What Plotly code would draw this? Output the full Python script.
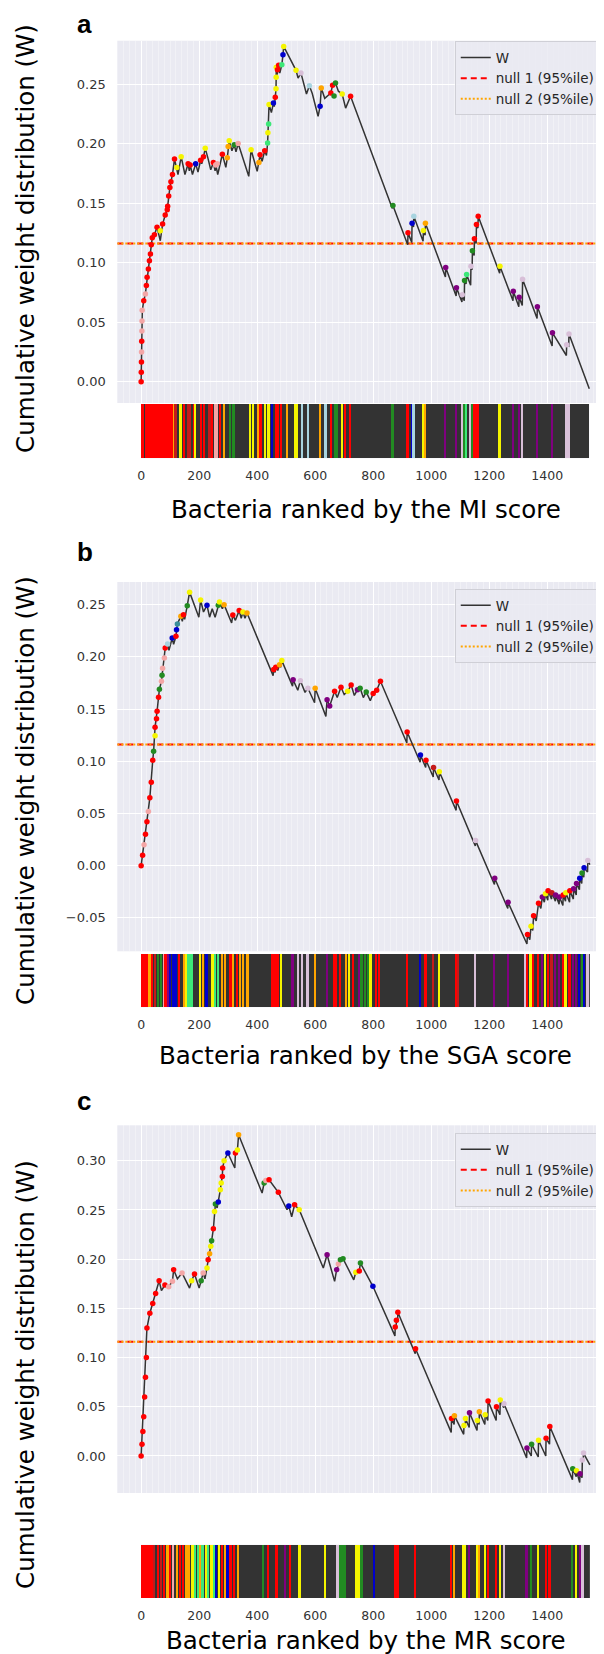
import plotly.graph_objects as go

W_PX, H_PX = 604, 1654

# colour codes
R = '#ff0000'; DR = '#c41a1a'; Y = '#f5f500'; O = '#ffa500'; G = '#228b22'
LG = '#3ce878'; B = '#0000cd'; P = '#800080'; PK = '#f4a6a6'; LB = '#a8d4e0'
TH = '#d8bfd8'; TE = '#3a8f9a'

# ---------------- panel a (MI score) ----------------
A_N = 1545
A_NULL = 0.116
A_X = [0, 2, 4, 9, 14.7, 18, 20.5, 25, 28.5, 32, 35, 38.4, 45.7, 54.8, 66, 74, 83, 90, 91.4, 95, 99, 102.7,
       108, 115, 127, 138, 151, 162, 166, 169, 177, 188, 196, 205, 209, 215, 221, 230, 240, 249, 255, 257,
       264, 280, 292, 297, 300, 303.6, 313, 321, 327, 334.5, 371, 379, 400, 406, 410, 417, 426, 432, 436,
       441, 449, 456, 459, 462.4, 465, 465.5, 466, 469, 474, 478, 485, 489, 491.4, 534, 541, 551, 570,
       580, 590, 610, 617, 621, 633, 654, 660, 670, 680, 693, 705, 722,
       866, 868, 919, 920, 933, 934, 939, 940, 972, 973, 979, 980, 1049, 1050, 1086, 1087, 1106, 1107,
       1114, 1115, 1120, 1122, 1136, 1137, 1141, 1142, 1148, 1149, 1155, 1156, 1161, 1162, 1236, 1237,
       1282, 1283, 1302, 1303, 1314, 1315, 1365, 1366, 1417, 1418, 1466, 1467, 1474, 1475, 1545]
A_Y = [0.0, 0.034, 0.060, 0.068, 0.0737, 0.0807, 0.0877, 0.0946, 0.1016, 0.1072, 0.115, 0.121, 0.1235,
       0.1297, 0.1184, 0.1324, 0.140, 0.1445, 0.1473, 0.156, 0.163, 0.168, 0.174, 0.187, 0.174, 0.189,
       0.174, 0.183, 0.177, 0.182, 0.174, 0.183, 0.176, 0.186, 0.183, 0.189, 0.196, 0.188, 0.178, 0.184,
       0.177, 0.183, 0.174, 0.191, 0.180, 0.188, 0.1976, 0.2024, 0.194, 0.199, 0.193, 0.200, 0.1725,
       0.1948, 0.1767, 0.184, 0.1906, 0.185, 0.194, 0.190, 0.2004, 0.2329, 0.226, 0.234, 0.231, 0.2388,
       0.246, 0.2556, 0.264, 0.258, 0.2657, 0.2592, 0.2662, 0.2746, 0.2816, 0.2615, 0.255, 0.2592,
       0.2416, 0.2486, 0.242, 0.2229, 0.2313, 0.2466, 0.238, 0.2425, 0.2489, 0.2508, 0.244, 0.2416,
       0.2298, 0.2397,
       0.1455, 0.148, 0.115, 0.125, 0.117, 0.133, 0.130, 0.139, 0.118, 0.127, 0.123, 0.133, 0.088, 0.096,
       0.072, 0.079, 0.067, 0.073, 0.068, 0.085, 0.082, 0.090, 0.081, 0.097, 0.094, 0.110, 0.106, 0.120,
       0.116, 0.132, 0.129, 0.139, 0.091, 0.097, 0.068, 0.076, 0.063, 0.071, 0.064, 0.086, 0.053, 0.063,
       0.030, 0.041, 0.022, 0.031, 0.030, 0.040, -0.006]
A_MX = [0, 0.5, 1, 1.5, 2, 2.5, 3, 3.5, 9, 14.7, 18, 20.5, 25, 28.5, 32, 35, 38.4, 45.7, 54.8, 66, 74,
        83, 90, 91.4, 95, 99, 102.7, 108, 115, 123, 138, 162, 169, 188, 205, 215, 221, 249, 257, 262, 280,
        297, 300, 303.6, 321, 334.5, 379, 406, 410, 426, 436, 437, 439.5, 441, 456, 462.4, 465, 465.5,
        466, 470, 474, 485, 489, 491.4, 534, 551, 580, 617, 621, 654, 660, 665, 670, 693, 722,
        868, 920, 934, 940, 973, 980, 1050, 1087, 1107, 1115, 1122, 1137, 1142, 1149, 1156, 1162, 1237,
        1283, 1303, 1315, 1366, 1418, 1467, 1475]
A_MY = [0.0, 0.008, 0.0165, 0.025, 0.034, 0.0425, 0.051, 0.060, 0.068, 0.0737, 0.0807, 0.0877, 0.0946,
        0.1016, 0.1072, 0.115, 0.121, 0.1235, 0.1297, 0.1268, 0.1324, 0.140, 0.1445, 0.1473, 0.156,
        0.163, 0.168, 0.174, 0.187, 0.180, 0.189, 0.183, 0.182, 0.183, 0.186, 0.189, 0.196, 0.184, 0.182,
        0.183, 0.191, 0.188, 0.1976, 0.2024, 0.199, 0.200, 0.1948, 0.184, 0.1906, 0.194, 0.2004, 0.209,
        0.2164, 0.2329, 0.234, 0.2388, 0.246, 0.2556, 0.264, 0.262, 0.2657, 0.2662, 0.2746, 0.2816,
        0.2615, 0.2592, 0.2486, 0.2313, 0.2466, 0.2425, 0.2489, 0.240, 0.2508, 0.2416, 0.2397,
        0.148, 0.125, 0.133, 0.139, 0.127, 0.133, 0.096, 0.079, 0.073, 0.085, 0.090, 0.097, 0.110, 0.120,
        0.132, 0.139, 0.097, 0.076, 0.071, 0.086, 0.063, 0.041, 0.031, 0.040]
A_MC = [R, R, R, PK, R, PK, PK, PK, R, PK, R, R, R, R, R, R, R, R, R, Y, R, R, R, R, R, R, R, R, R, Y, Y,
        R, R, B, R, R, Y, R, PK, PK, R, O, O, Y, G, PK, Y, O, R, R, LG, Y, LG, Y, B, R, Y, Y, Y, R, R, LG,
        B, Y, Y, TH, LB, B, O, R, R, G, G, Y, R,
        G, R, B, LB, Y, O, P, P, TH, G, LG, TH, G, R, R, R, Y, P, P, TH, P, P, TH, TH]
A_SX = [1, 5, 9, 18, 22, 26, 30, 34, 38, 42, 46, 50, 54, 58, 62, 70, 74, 78, 82, 90, 94, 98, 102, 106,
        114, 120, 137, 148, 162, 168, 185, 188, 209, 219, 237, 245, 257, 263, 272, 288, 308, 320, 377,
        386, 405, 413, 428, 440, 452, 465, 474, 484, 504, 531, 538, 557, 577, 617, 637, 657, 670, 676,
        694, 703, 722, 868, 920, 934, 940, 973, 980, 1050, 1087, 1107, 1115, 1122, 1137, 1142, 1149,
        1156, 1162, 1237, 1283, 1303, 1315, 1366, 1418, 1467, 1475]
A_SC = [R, R, R, R, R, R, R, R, R, R, R, R, R, R, R, R, R, R, R, R, R, R, R, R, O, DR, Y, R, DR, DR, R, Y,
        R, R, DR, R, PK, PK, R, O, G, G, Y, Y, O, R, Y, Y, B, R, R, R, O, Y, Y, LB, LB, O, LB, R, G, G, Y,
        R, R, G, R, B, LB, Y, O, P, P, TH, G, LG, TH, G, R, R, R, Y, P, P, TH, P, P, TH, TH]

# ---------------- panel b (SGA score) ----------------
B_N = 1547
B_NULL = 0.116
B_X = [0, 10, 20, 30, 40, 43, 48, 53, 55, 60, 63, 70, 72, 74, 80, 83, 91, 96, 107, 112, 120, 122, 125,
       137, 142, 146, 150, 159, 167, 199, 205, 215, 227, 236, 245, 255, 266, 270, 280, 286, 312, 316,
       325, 338, 345, 351, 358, 365, 455, 457, 462, 464, 471, 477, 481, 485, 522, 524, 540, 549, 565,
       575, 598, 600, 637, 641, 650, 667, 676, 689, 700, 712, 724, 735, 746, 755, 766, 776, 790, 800,
       812, 825, 916, 917, 962, 963, 981, 982, 1007, 1008, 1027, 1028, 1086, 1087, 1152, 1153, 1218,
       1219, 1264, 1265, 1330, 1332, 1340, 1344, 1350, 1353, 1362, 1370, 1378, 1383, 1390, 1394, 1402,
       1403, 1415, 1416, 1428, 1429, 1441, 1442, 1454, 1455, 1463, 1464, 1477, 1478, 1490, 1491, 1500,
       1501, 1511, 1512, 1519, 1520, 1526, 1527, 1539, 1540, 1547]
B_Y = [0.0, 0.02, 0.042, 0.065, 0.101, 0.1096, 0.1325, 0.1408, 0.148, 0.1613, 0.169, 0.1766, 0.1824,
       0.189, 0.199, 0.2085, 0.2124, 0.2063, 0.218, 0.212, 0.2197, 0.226, 0.2315, 0.239, 0.234, 0.2404,
       0.236, 0.249, 0.262, 0.238, 0.2545, 0.243, 0.2494, 0.238, 0.246, 0.238, 0.2494, 0.2526, 0.246,
       0.250, 0.2325, 0.240, 0.235, 0.2443, 0.237, 0.243, 0.237, 0.242, 0.182, 0.188, 0.185, 0.190,
       0.187, 0.1925, 0.190, 0.1964, 0.172, 0.178, 0.168, 0.1772, 0.166, 0.170, 0.156, 0.170, 0.143,
       0.159, 0.153, 0.167, 0.161, 0.1709, 0.164, 0.167, 0.173, 0.163, 0.1686, 0.170, 0.161, 0.1664,
       0.158, 0.165, 0.168, 0.1766, 0.1175, 0.128, 0.099, 0.106, 0.094, 0.101, 0.085, 0.094, 0.082,
       0.090, 0.053, 0.062, 0.019, 0.024, -0.018, -0.012, -0.041, -0.035, -0.075, -0.066, -0.071,
       -0.058, -0.062, -0.048, -0.053, -0.036, -0.041, -0.030, -0.035, -0.027, -0.033, -0.024, -0.032,
       -0.026, -0.034, -0.028, -0.037, -0.030, -0.038, -0.028, -0.034, -0.026, -0.035, -0.024, -0.032,
       -0.022, -0.028, -0.017, -0.023, -0.012, -0.017, -0.007, -0.011, -0.002, -0.006, 0.005, 0.001]
B_MX = [0, 5, 10, 15, 20, 25, 30, 35, 40, 43, 48, 48, 53, 55, 60, 63, 70, 72, 74, 80, 83, 91, 107, 120,
        122, 125, 137, 146, 159, 167, 205, 227, 266, 270, 286, 316, 338, 351, 365, 457, 464, 477, 485,
        524, 549, 575, 600, 641, 650, 667, 689, 712, 724, 746, 755, 776, 800, 812, 825,
        917, 963, 982, 1008, 1028, 1087, 1153, 1219, 1265, 1332, 1344, 1353, 1370, 1383, 1394, 1403,
        1416, 1429, 1442, 1455, 1464, 1478, 1491, 1501, 1512, 1520, 1527, 1540]
B_MY = [0.0, 0.01, 0.02, 0.03, 0.042, 0.052, 0.065, 0.08, 0.101, 0.1096, 0.1245, 0.1325, 0.1408, 0.148,
        0.1613, 0.169, 0.1766, 0.1824, 0.189, 0.199, 0.2085, 0.2124, 0.218, 0.2197, 0.226, 0.2315, 0.239,
        0.2404, 0.249, 0.262, 0.2545, 0.2494, 0.2494, 0.2526, 0.250, 0.240, 0.2443, 0.243, 0.242, 0.188,
        0.190, 0.1925, 0.1964, 0.178, 0.1772, 0.170, 0.170, 0.159, 0.153, 0.167, 0.1709, 0.167, 0.173,
        0.1686, 0.170, 0.1664, 0.165, 0.168, 0.1766,
        0.128, 0.106, 0.101, 0.094, 0.090, 0.062, 0.024, -0.012, -0.035, -0.066, -0.058, -0.048, -0.036,
        -0.030, -0.027, -0.024, -0.026, -0.028, -0.030, -0.028, -0.026, -0.024, -0.022, -0.017, -0.012,
        -0.007, -0.002, 0.005]
B_MC = [R, R, PK, R, R, PK, R, R, R, G, Y, R, R, R, R, G, PK, G, PK, PK, R, LB, B, R, B, TE, O, R, G, Y,
        Y, B, G, Y, O, R, R, Y, O, R, R, O, Y, P, TH, TH, O, P, P, R, R, Y, R, P, G, G, R, R, R,
        R, B, R, DR, Y, R, TH, P, P, R, Y, R, R, P, Y, R, DR, P, P, R, Y, R, P, P, B, G, B, TH]
B_SX = [2, 6, 10, 14, 18, 22, 30, 39, 50, 60, 70, 79, 85, 93, 102, 113, 122, 131, 148, 157, 165, 175,
        204, 214, 227, 247, 257, 266, 280, 290, 309, 319, 332, 341, 352, 368, 452, 458, 465, 472, 484,
        523, 542, 555, 575, 601, 641, 667, 672, 687, 707, 717, 733, 752, 761, 772, 785, 792, 812, 822,
        917, 963, 982, 1008, 1028, 1087, 1095, 1153, 1219, 1265, 1324, 1332, 1344, 1353, 1370, 1383,
        1394, 1403, 1416, 1429, 1442, 1455, 1464, 1478, 1491, 1501, 1512, 1520, 1527, 1540]
B_SC = [R, R, R, R, R, R, O, R, DR, G, G, PK, R, P, B, B, B, R, O, Y, LG, LG, Y, O, B, Y, LG, LG, O, O,
        R, O, R, O, O, O, R, R, R, R, Y, P, TH, TH, TH, O, P, R, R, R, O, Y, R, P, G, G, G, Y, R, R,
        R, B, R, DR, Y, R, DR, TH, P, P, TH, R, Y, R, R, P, Y, R, DR, P, P, R, Y, R, P, P, B, G, B, TH]

# ---------------- panel c (MR score) ----------------
C_N = 1547
C_NULL = 0.116
C_X = [0, 5, 10, 15, 20, 30, 40, 50, 62, 70, 82, 95, 108, 112, 125, 141, 167, 174, 184, 200, 207, 214,
       220, 227, 231, 236, 240, 243, 249, 253, 256, 262, 266, 273, 276, 280, 281, 286, 299, 310, 323,
       325, 332, 336, 417, 424, 441, 473, 503, 509, 519, 529, 545, 628, 641, 667, 674, 687, 696, 733,
       740, 752, 756, 799, 875, 876, 879, 880, 884, 885, 945, 946, 1069, 1070, 1079, 1080, 1112, 1113,
       1117, 1118, 1131, 1132, 1158, 1159, 1165, 1166, 1185, 1186, 1195, 1196, 1224, 1225, 1237, 1238,
       1250, 1251, 1329, 1330, 1345, 1346, 1369, 1370, 1395, 1396, 1408, 1409, 1487, 1488, 1500, 1501,
       1512, 1513, 1520, 1521, 1524, 1525, 1547]
C_Y = [0.0, 0.03, 0.06, 0.10, 0.13, 0.145, 0.155, 0.165, 0.178, 0.168, 0.1737, 0.172, 0.1775, 0.1893,
       0.180, 0.186, 0.1706, 0.178, 0.1849, 0.1706, 0.178, 0.186, 0.180, 0.191, 0.1994, 0.2055, 0.213,
       0.2187, 0.2309, 0.2485, 0.256, 0.252, 0.258, 0.2705, 0.2774, 0.2841, 0.2926, 0.300, 0.3078, 0.300,
       0.2926, 0.3078, 0.311, 0.3264, 0.2672, 0.2773, 0.2807, 0.2679, 0.2502, 0.254, 0.2431, 0.2553,
       0.2502, 0.191, 0.2045, 0.1774, 0.1893, 0.1994, 0.2005, 0.179, 0.1866, 0.188, 0.196, 0.1724,
       0.122, 0.131, 0.129, 0.138, 0.136, 0.146, 0.104, 0.109, 0.024, 0.038, 0.032, 0.041, 0.022, 0.031,
       0.029, 0.038, 0.029, 0.044, 0.026, 0.036, 0.032, 0.045, 0.032, 0.042, 0.036, 0.056, 0.036, 0.050,
       0.042, 0.057, 0.049, 0.053, -0.002, 0.008, 0.000, 0.012, -0.001, 0.016, 0.000, 0.018, 0.012,
       0.030, -0.024, -0.013, -0.021, -0.015, -0.027, -0.018, -0.022, -0.004, -0.005, 0.003, -0.009]
C_MX = [0, 3, 6, 9, 12, 15, 18, 20, 30, 40, 50, 62, 82, 95, 108, 112, 141, 174, 184, 207, 214, 227, 231,
        236, 240, 243, 249, 253, 256, 266, 273, 276, 280, 281, 286, 299, 325, 332, 336, 424, 430, 441,
        473, 509, 529, 545, 641, 674, 680, 687, 696, 740, 752, 756, 799,
        876, 880, 885, 946, 1070, 1080, 1113, 1118, 1132, 1159, 1166, 1186, 1196, 1225, 1238, 1251, 1330,
        1346, 1370, 1396, 1409, 1488, 1501, 1513, 1521, 1525]
C_MY = [0.0, 0.012, 0.025, 0.04, 0.06, 0.08, 0.10, 0.13, 0.145, 0.155, 0.165, 0.178, 0.1737, 0.172,
        0.1775, 0.1893, 0.186, 0.178, 0.1849, 0.178, 0.186, 0.191, 0.1994, 0.2055, 0.213, 0.2187, 0.2309,
        0.2485, 0.256, 0.258, 0.2705, 0.2774, 0.2841, 0.2926, 0.300, 0.3078, 0.3078, 0.311, 0.3264,
        0.2773, 0.280, 0.2807, 0.2679, 0.254, 0.2553, 0.2502, 0.2045, 0.1893, 0.195, 0.1994, 0.2005,
        0.1866, 0.188, 0.196, 0.1724,
        0.131, 0.138, 0.146, 0.109, 0.038, 0.041, 0.031, 0.038, 0.044, 0.036, 0.045, 0.042, 0.056, 0.050,
        0.057, 0.053, 0.008, 0.012, 0.016, 0.018, 0.030, -0.013, -0.015, -0.018, -0.004, 0.003]
C_MC = [R, R, R, R, R, R, R, R, R, R, R, R, R, PK, PK, R, PK, Y, R, G, PK, Y, R, O, Y, G, R, Y, G, B, Y,
        Y, R, R, Y, B, R, Y, O, G, PK, R, R, B, R, Y, P, P, PK, G, G, Y, R, G, B,
        R, R, R, R, R, O, Y, Y, P, Y, O, Y, R, R, Y, TH, P, G, Y, R, R, G, Y, P, TH, TH]
C_SX = [2, 6, 10, 14, 18, 22, 26, 30, 34, 38, 46, 59, 70, 79, 92, 101, 112, 125, 134, 145, 158, 167, 178,
        188, 198, 204, 213, 224, 233, 244, 253, 259, 270, 280, 290, 299, 309, 322, 336, 421, 439, 468,
        497, 514, 547, 636, 678, 687, 694, 702, 744, 751, 761, 803, 876, 880, 885, 946, 1070, 1080, 1113,
        1118, 1132, 1159, 1166, 1186, 1196, 1225, 1238, 1251, 1330, 1346, 1370, 1396, 1409, 1488, 1501,
        1513, 1521, 1525]
C_SC = [R, R, R, R, R, R, R, R, R, R, DR, R, DR, R, O, R, PK, O, R, R, O, O, Y, LG, LG, O, LG, Y, LG, Y,
        LG, B, Y, R, O, B, R, R, O, G, R, R, P, R, Y, Y, TH, G, G, G, Y, Y, G, B, R, R, R, R, R, O, Y, Y,
        P, Y, O, Y, R, R, Y, TH, P, G, Y, R, R, G, Y, P, TH, TH]

GRID = 'white'
BG = '#eaeaf2'
YTICKFONT = dict(family='DejaVu Sans', size=13, color='#333333')
XTICKFONT = dict(family='DejaVu Sans', size=12.5, color='#333333')


def py2paper(py):
    return 1 - py / H_PX


panels = [
    dict(letter='a', N=A_N, null=A_NULL, X=A_X, Y=A_Y, MX=A_MX, MY=A_MY, MC=A_MC, SX=A_SX, SC=A_SC,
         top=32.7, bot=395.0, yr=[-0.0179, 0.2864], ytv=[0.0, 0.05, 0.10, 0.15, 0.20, 0.25],
         stop=396.0, sbot=450.3, lab_top=0.0, xt_y=501.5, yt_y=230, leg_top=33.3,
         xlabel='Bacteria ranked by the MI score'),
    dict(letter='b', N=B_N, null=B_NULL, X=B_X, Y=B_Y, MX=B_MX, MY=B_MY, MC=B_MC, SX=B_SX, SC=B_SC,
         top=574.0, bot=943.3, yr=[-0.082, 0.2717], ytv=[-0.05, 0.0, 0.05, 0.10, 0.15, 0.20, 0.25],
         stop=946.0, sbot=999.3, lab_top=528.5, xt_y=1047.0, yt_y=782, leg_top=581.0,
         xlabel='Bacteria ranked by the SGA score'),
    dict(letter='c', N=C_N, null=C_NULL, X=C_X, Y=C_Y, MX=C_MX, MY=C_MY, MC=C_MC, SX=C_SX, SC=C_SC,
         top=1117.3, bot=1485.0, yr=[-0.0376, 0.336], ytv=[0.0, 0.05, 0.10, 0.15, 0.20, 0.25, 0.30],
         stop=1536.7, sbot=1590.0, lab_top=1076.5, xt_y=1632.0, yt_y=1366, leg_top=1125.0,
         xlabel='Bacteria ranked by the MR score'),
]

fig = go.Figure()
layout = dict(width=W_PX, height=H_PX, margin=dict(l=0, r=0, t=0, b=0), paper_bgcolor='white',
              plot_bgcolor=BG, showlegend=True, annotations=[])

PX_PER_UNIT = 0.292
X0_PX = 130.0
main_xr = [(106 - X0_PX) / PX_PER_UNIT, (604 - X0_PX) / PX_PER_UNIT]

for i, p in enumerate(panels):
    mx = 2 * i + 1
    sx = 2 * i + 2
    mxa = 'x' if mx == 1 else f'x{mx}'
    mya = 'y' if mx == 1 else f'y{mx}'
    sxa = f'x{sx}'
    sya = f'y{sx}'
    leg = 'legend' if i == 0 else f'legend{i + 1}'

    # null lines
    fig.add_trace(go.Scatter(x=[main_xr[0], main_xr[1]], y=[p['null'], p['null']], mode='lines',
                             line=dict(color='#ff0000', width=2, dash='6px,4px'), name='null 1 (95%ile)',
                             xaxis=mxa, yaxis=mya, legend=leg, legendrank=2, legendgroup=f'n1{i}',
                             hoverinfo='skip'))
    fig.add_trace(go.Scatter(x=[main_xr[0], main_xr[1]], y=[p['null'], p['null']], mode='lines',
                             line=dict(color='#ffa500', width=2, dash='2px,2px'), name='null 2 (95%ile)',
                             xaxis=mxa, yaxis=mya, legend=leg, legendrank=3, legendgroup=f'n2{i}',
                             hoverinfo='skip'))
    # W curve
    fig.add_trace(go.Scatter(x=p['X'], y=p['Y'], mode='lines', line=dict(color='#333333', width=1.5),
                             name='W', xaxis=mxa, yaxis=mya, legend=leg, legendrank=1,
                             legendgroup=f'w{i}'))
    # hit markers
    fig.add_trace(go.Scatter(x=p['MX'], y=p['MY'], mode='markers',
                             marker=dict(color=p['MC'], size=5.5, line=dict(width=0)),
                             showlegend=False, xaxis=mxa, yaxis=mya))
    # strip background
    fig.add_trace(go.Bar(x=[p['N'] / 2], y=[1], width=[p['N']], marker=dict(color='#333333', line=dict(width=0)),
                         showlegend=False, xaxis=sxa, yaxis=sya, hoverinfo='skip'))
    fig.add_trace(go.Bar(x=p['SX'], y=[1] * len(p['SX']), width=6,
                         marker=dict(color=p['SC'], line=dict(width=0)),
                         showlegend=False, xaxis=sxa, yaxis=sya))

    layout[f'xaxis{"" if mx == 1 else mx}'] = dict(
        domain=[106 / W_PX, 1.0], range=main_xr, anchor=mya, showticklabels=False, ticks='',
        showgrid=True, gridcolor=GRID, gridwidth=1.3, dtick=200, tick0=0, zeroline=False, showline=False,
        minor=dict(dtick=20, showgrid=True, gridcolor='rgba(255,255,255,0.35)', gridwidth=0.6))
    layout[f'yaxis{"" if mx == 1 else mx}'] = dict(
        domain=[py2paper(p['bot']), py2paper(p['top'])], range=p['yr'], anchor=mxa,
        tickvals=p['ytv'], tickformat='.2f', tickfont=YTICKFONT, ticks='outside', ticklen=8,
        tickcolor='rgba(0,0,0,0)', showgrid=True, gridcolor=GRID, gridwidth=1.3, zeroline=False,
        showline=False)
    layout[f'xaxis{sx}'] = dict(
        domain=[X0_PX / W_PX, (X0_PX + p['N'] * PX_PER_UNIT) / W_PX], range=[0, p['N']], anchor=sya,
        tickvals=[0, 200, 400, 600, 800, 1000, 1200, 1400], tickfont=XTICKFONT, ticks='outside',
        ticklen=6, tickcolor='rgba(0,0,0,0)', showgrid=False, zeroline=False, showline=False)
    layout[f'yaxis{sx}'] = dict(
        domain=[py2paper(p['sbot']), py2paper(p['stop'])], range=[0, 1], anchor=sxa,
        showticklabels=False, showgrid=False, zeroline=False, showline=False, ticks='')

    layout[leg] = dict(x=445.7 / W_PX, xanchor='left', y=py2paper(p['leg_top']), yanchor='top',
                       bgcolor='rgba(234,234,242,0.85)', bordercolor='#cfcfd6', borderwidth=1,
                       font=dict(family='DejaVu Sans', size=13.5, color='#262626'),
                       tracegroupgap=3, traceorder='normal')

    layout['annotations'] += [
        dict(text=f'<b>{p["letter"]}</b>', x=64 / W_PX, y=py2paper(p['lab_top']), xref='paper', yref='paper',
             xanchor='left', yanchor='top', showarrow=False, borderpad=0,
             font=dict(family='Liberation Sans', size=26, color='black')),
        dict(text=p['xlabel'], x=356 / W_PX, y=py2paper(p['xt_y']), xref='paper', yref='paper',
             xanchor='center', yanchor='middle', showarrow=False,
             font=dict(family='DejaVu Sans', size=24.5, color='black')),
        dict(text='Cumulative weight distribution (W)', x=13 / W_PX, y=py2paper(p['yt_y']), xref='paper',
             yref='paper', xanchor='center', yanchor='middle', textangle=-90, showarrow=False,
             font=dict(family='DejaVu Sans', size=24.5, color='black')),
    ]

layout['barmode'] = 'overlay'
layout['bargap'] = 0
fig.update_layout(**layout)
fig.write_html('out.html')
